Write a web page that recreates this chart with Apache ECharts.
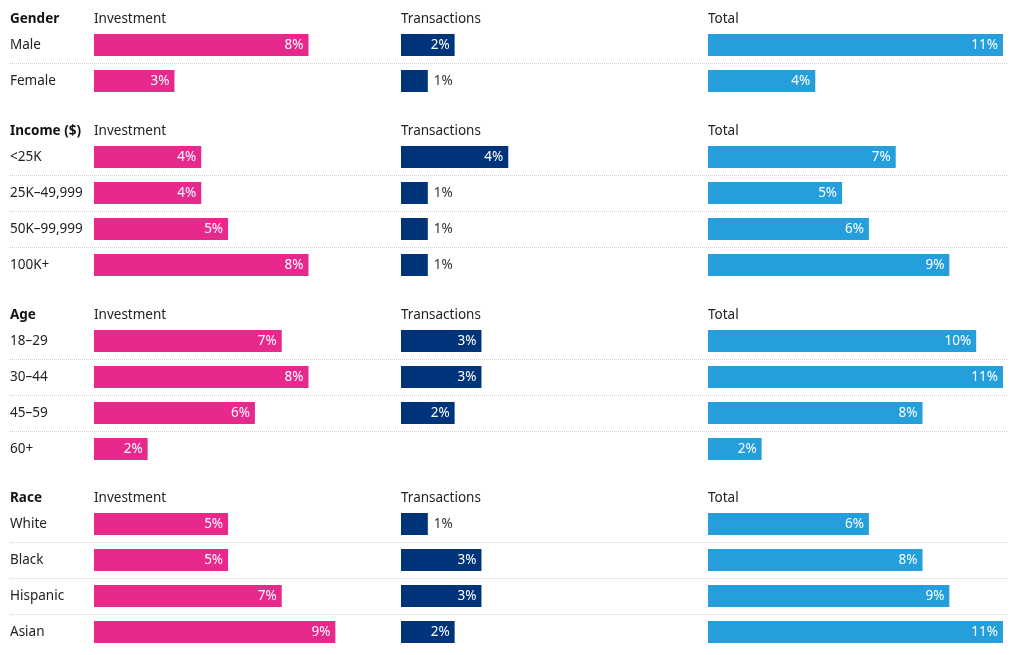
<!DOCTYPE html>
<html>
<head>
<meta charset="utf-8">
<script src="https://cdn.jsdelivr.net/npm/echarts@6/dist/echarts.min.js"></script>
<style>html,body{margin:0;padding:0;background:#fff;}#c{width:1024px;height:655px;}</style>
</head>
<body>
<div id="c"></div>
<script>
// ---- data ----
const sectionTitles = ['Gender', 'Income ($)', 'Age', 'Race'];
const columnTitles = ['Investment', 'Transactions', 'Total'];

const genderCats = ['Male', 'Female'];
const genderInvestment = [8, 3];
const genderTransactions = [2, 1];
const genderTotal = [11, 4];

const incomeCats = ['<25K', '25K–49,999', '50K–99,999', '100K+'];
const incomeInvestment = [4, 4, 5, 8];
const incomeTransactions = [4, 1, 1, 1];
const incomeTotal = [7, 5, 6, 9];

const ageCats = ['18–29', '30–44', '45–59', '60+'];
const ageInvestment = [7, 8, 6, 2];
const ageTransactions = [3, 3, 2, null];
const ageTotal = [10, 11, 8, 2];

const raceCats = ['White', 'Black', 'Hispanic', 'Asian'];
const raceInvestment = [5, 5, 7, 9];
const raceTransactions = [1, 3, 3, 2];
const raceTotal = [6, 8, 9, 11];

const xMax = 11;

// ---- layout / style ----
const sections = [
  { cats: genderCats, cols: [genderInvestment, genderTransactions, genderTotal], top: 27 },
  { cats: incomeCats, cols: [incomeInvestment, incomeTransactions, incomeTotal], top: 139 },
  { cats: ageCats, cols: [ageInvestment, ageTransactions, ageTotal], top: 323 },
  { cats: raceCats, cols: [raceInvestment, raceTransactions, raceTotal], top: 506 }
];
const colLeft = [94, 401, 708];
const colWidth = 295;
const rowH = 36;
const colColors = ['#E7298D', '#00347A', '#259FDC'];
const FONT = 'Noto Sans';
const FS = 13.5;

const grids = [], xAxes = [], yAxes = [], series = [], graphics = [];
sections.forEach((sec, si) => {
  const n = sec.cats.length;
  // section header
  graphics.push({ type: 'text', left: 10, top: sec.top - 15,
    style: { text: sectionTitles[si], font: 'bold ' + FS + 'px "' + FONT + '"', fill: '#111' } });
  // separators
  for (let i = 1; i < n; i++) {
    const y = sec.top + i * rowH + 0.5;
    graphics.push({ type: 'line', shape: { x1: 10, y1: y, x2: 1008, y2: y },
      style: { stroke: '#d0d0d0', lineWidth: 1, lineDash: [1, 1] } });
  }
  colLeft.forEach((left, ci) => {
    const gi = grids.length;
    graphics.push({ type: 'text', left: left, top: sec.top - 15,
      style: { text: columnTitles[ci], font: FS + 'px "' + FONT + '"', fill: '#222' } });
    grids.push({ left: left, top: sec.top, width: colWidth, height: n * rowH });
    xAxes.push({ type: 'value', gridIndex: gi, min: 0, max: xMax, show: false });
    yAxes.push({ type: 'category', gridIndex: gi, data: sec.cats, inverse: true,
      axisLine: { show: false }, axisTick: { show: false }, splitLine: { show: false },
      axisLabel: { show: ci === 0, align: 'left', margin: 84, color: '#222', fontSize: FS, fontFamily: FONT,
        padding: [2, 0, 0, 0] } });
    series.push({
      type: 'bar', xAxisIndex: gi, yAxisIndex: gi, barWidth: 22, silent: true,
      itemStyle: { color: colColors[ci] },
      data: sec.cols[ci].map(v => v == null ? null : {
        value: v,
        label: v >= 2
          ? { show: true, position: 'insideRight', distance: 5, color: '#fff' }
          : { show: true, position: 'right', distance: 6, color: '#333' }
      }),
      label: { fontSize: FS, fontFamily: FONT, padding: [2, 0, 0, 0], formatter: p => p.value + '%' }
    });
  });
});

const chart = echarts.init(document.getElementById('c'), null, { renderer: 'canvas' });
chart.setOption({
  animation: false,
  grid: grids, xAxis: xAxes, yAxis: yAxes, series: series,
  graphic: graphics
});
</script>
</body>
</html>
